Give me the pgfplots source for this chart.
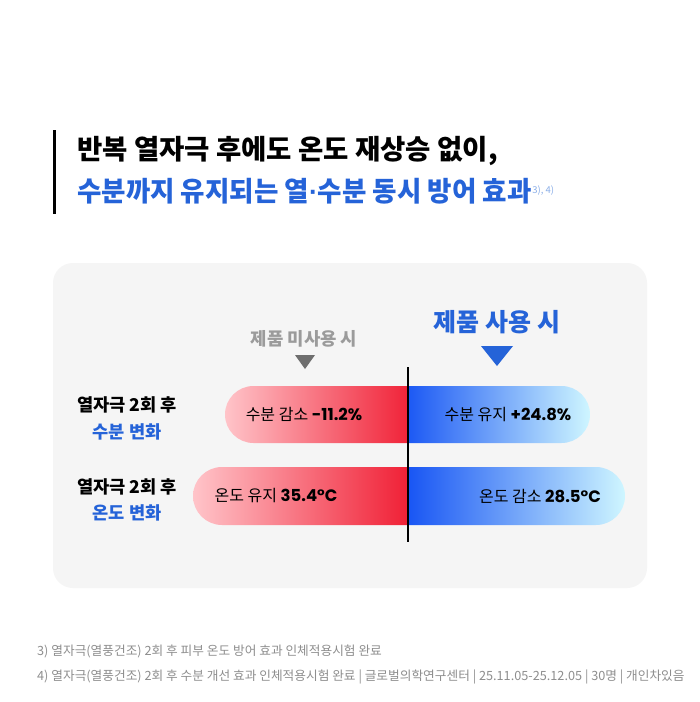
\documentclass[border=0pt]{standalone}
\usepackage{pgfplots}
\pgfplotsset{compat=1.18}
\usepackage{fontspec}
\setmainfont{Noto Sans CJK KR}
\newfontfamily\pop{Poppins}
\newfontfamily\lib{Liberation Sans}
\definecolor{panel}{HTML}{F5F5F5}
\definecolor{tblue}{HTML}{2563D8}
\definecolor{supblue}{HTML}{8AAEE8}
\definecolor{redL}{HTML}{FFC4C9}
\definecolor{redR}{HTML}{EE0A22}
\definecolor{bluL}{HTML}{0040F2}
\definecolor{bluM}{HTML}{3A98F6}
\definecolor{bluR}{HTML}{CFF6FF}
\definecolor{greyT}{HTML}{9B9B9B}
\definecolor{greyTri}{HTML}{6E6E6E}
\definecolor{foot}{HTML}{8E8E8E}
\begin{document}
\begin{tikzpicture}
\begin{axis}[width=700pt,height=702pt,scale only axis,
  xmin=0,xmax=700,ymin=0,ymax=702,y dir=reverse,
  axis lines=none,ticks=none,clip=false]
\fill[white] (axis cs:0,0) rectangle (axis cs:700,702);
% title
\fill[black] (axis cs:53,130) rectangle (axis cs:56,214);
\node[anchor=west,inner sep=0pt] at (axis cs:77,151) {\fontsize{27.5}{30}\selectfont\bfseries 반복 열자극 후에도 온도 재상승 없이,};
\node[anchor=west,inner sep=0pt] at (axis cs:77,191) {\scalebox{0.965}[1]{\fontsize{27.5}{30}\selectfont\bfseries\color{tblue}수분까지 유지되는 열{\lib·}수분 동시 방어 효과}\kern1pt\raisebox{8pt}{\fontsize{9.5}{9.5}\selectfont\color{supblue}3), 4)}};
% panel
\fill[panel, rounded corners=20pt] (axis cs:53,263) rectangle (axis cs:647,588);
% headers
\node[inner sep=0pt] at (axis cs:304,339) {\fontsize{17.8}{20}\selectfont\bfseries\color{greyT}제품 미사용 시};
\node[inner sep=0pt] at (axis cs:497,322) {\fontsize{25}{28}\selectfont\bfseries\color{tblue}제품 사용 시};
\addplot[fill=greyTri, draw=none] coordinates {(295,355) (315,355) (305,369)} -- cycle;
\addplot[fill=tblue, draw=none] coordinates {(481,346) (513,346) (497,366)} -- cycle;
% bars
\begin{scope}
\clip (axis cs:0,0) rectangle (axis cs:408,702);
\addplot[draw=none, left color=redL, right color=redR, rounded corners=28.5pt] coordinates {(225,386) (437,386) (437,443) (225,443)} -- cycle;
\addplot[draw=none, left color=redL, right color=redR, rounded corners=29pt] coordinates {(193,467) (437,467) (437,525) (193,525)} -- cycle;
\end{scope}
\begin{scope}
\clip (axis cs:408,0) rectangle (axis cs:700,702);
\addplot[draw=none, left color=bluL, middle color=bluM, right color=bluR, rounded corners=28.5pt] coordinates {(379,386) (590,386) (590,443) (379,443)} -- cycle;
\addplot[draw=none, left color=bluL, middle color=bluM, right color=bluR, rounded corners=29pt] coordinates {(379,467) (625,467) (625,525) (379,525)} -- cycle;
\end{scope}
\addplot[black, line width=2pt] coordinates {(408,367) (408,542)};
% bar texts
\node[inner sep=0pt] at (axis cs:304,415) {\fontsize{16}{18}\selectfont 수분 감소 {\pop\bfseries\fontsize{16.5}{18}\selectfont -11.2\%}};
\node[inner sep=0pt] at (axis cs:508,415) {\fontsize{16}{18}\selectfont 수분 유지 {\pop\bfseries\fontsize{16.5}{18}\selectfont +24.8\%}};
\node[inner sep=0pt] at (axis cs:276,496) {\fontsize{16}{18}\selectfont 온도 유지 {\pop\bfseries\fontsize{16.5}{18}\selectfont 35.4°C}};
\node[inner sep=0pt] at (axis cs:540,496) {\fontsize{16}{18}\selectfont 온도 감소 {\pop\bfseries\fontsize{16.5}{18}\selectfont 28.5°C}};
% row labels
\node[inner sep=0pt] at (axis cs:127,405) {\fontsize{17.6}{20}\selectfont\bfseries 열자극 2회 후};
\node[inner sep=0pt] at (axis cs:127,432) {\fontsize{17.6}{20}\selectfont\bfseries\color{tblue}수분 변화};
\node[inner sep=0pt] at (axis cs:127,487) {\fontsize{17.6}{20}\selectfont\bfseries 열자극 2회 후};
\node[inner sep=0pt] at (axis cs:127,513) {\fontsize{17.6}{20}\selectfont\bfseries\color{tblue}온도 변화};
% footnotes
\node[anchor=west,inner sep=0pt] at (axis cs:37,651) {\fontsize{12.7}{14}\selectfont\color{foot}3) 열자극(열풍건조) 2회 후 피부 온도 방어 효과 인체적용시험 완료};
\node[anchor=west,inner sep=0pt] at (axis cs:37,677) {\fontsize{12.7}{14}\selectfont\color{foot}4) 열자극(열풍건조) 2회 후 수분 개선 효과 인체적용시험 완료 | 글로벌의학연구센터 | 25.11.05-25.12.05 | 30명 | 개인차있음};
\end{axis}
\end{tikzpicture}
\end{document}
